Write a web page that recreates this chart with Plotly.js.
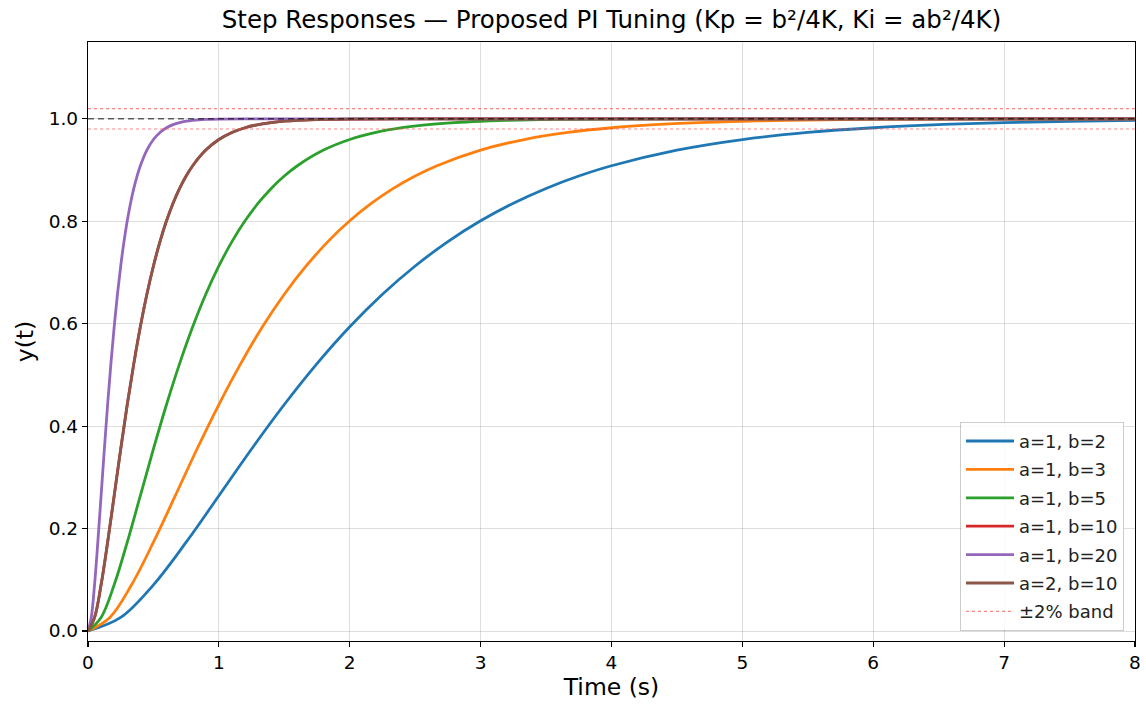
<!DOCTYPE html>
<html>
<head>
<meta charset="utf-8">
<script src="https://cdn.plot.ly/plotly-3.0.1.min.js"></script>
<style>html,body{margin:0;padding:0;background:#fff;}#chart{width:1146px;height:709px;}</style>
</head>
<body>
<div id="chart"></div>
<script>
// Series
const t_b2 = [0, 0.25, 0.5, 0.75, 1, 1.25, 1.5, 1.75, 2, 2.25, 2.5, 2.75, 3, 3.25, 3.5, 3.75, 4, 4.5, 5, 5.5, 6, 6.5, 7, 7.5, 8];
const y_b2 = [0, 0.0265, 0.0902, 0.1734, 0.2642, 0.3554, 0.4422, 0.5221, 0.5940, 0.6575, 0.7127, 0.7603, 0.8009, 0.8352, 0.8641, 0.8883, 0.9084, 0.9389, 0.9596, 0.9734, 0.9826, 0.9887, 0.9927, 0.9953, 0.9970];

const t_b3 = [0, 0.167, 0.333, 0.5, 0.667, 0.833, 1.0, 1.167, 1.333, 1.5, 1.667, 1.833, 2.0, 2.167, 2.333, 2.5, 2.667, 3.0, 3.333, 3.667, 4.0, 4.333, 4.667, 5.0, 5.333, 6.0, 6.667, 8.0];
const y_b3 = [0, 0.0265, 0.0902, 0.1734, 0.2642, 0.3554, 0.4422, 0.5221, 0.5940, 0.6575, 0.7127, 0.7603, 0.8009, 0.8352, 0.8641, 0.8883, 0.9084, 0.9389, 0.9596, 0.9734, 0.9826, 0.9887, 0.9927, 0.9953, 0.9970, 0.9988, 0.9995, 0.9999];

const t_b5 = [0, 0.1, 0.2, 0.3, 0.4, 0.5, 0.6, 0.7, 0.8, 0.9, 1.0, 1.1, 1.2, 1.3, 1.4, 1.5, 1.6, 1.8, 2.0, 2.2, 2.4, 2.6, 2.8, 3.0, 3.2, 3.6, 4.0, 4.8, 6.0, 8.0];
const y_b5 = [0, 0.0265, 0.0902, 0.1734, 0.2642, 0.3554, 0.4422, 0.5221, 0.5940, 0.6575, 0.7127, 0.7603, 0.8009, 0.8352, 0.8641, 0.8883, 0.9084, 0.9389, 0.9596, 0.9734, 0.9826, 0.9887, 0.9927, 0.9953, 0.9970, 0.9988, 0.9995, 0.9999, 1.0, 1.0];

const t_b10 = [0, 0.05, 0.1, 0.15, 0.2, 0.25, 0.3, 0.35, 0.4, 0.45, 0.5, 0.55, 0.6, 0.65, 0.7, 0.75, 0.8, 0.9, 1.0, 1.1, 1.2, 1.3, 1.4, 1.5, 1.6, 1.8, 2.0, 2.4, 3.0, 4.0, 6.0, 8.0];
const y_b10 = [0, 0.0265, 0.0902, 0.1734, 0.2642, 0.3554, 0.4422, 0.5221, 0.5940, 0.6575, 0.7127, 0.7603, 0.8009, 0.8352, 0.8641, 0.8883, 0.9084, 0.9389, 0.9596, 0.9734, 0.9826, 0.9887, 0.9927, 0.9953, 0.9970, 0.9988, 0.9995, 0.9999, 1.0, 1.0, 1.0, 1.0];

const t_b20 = [0, 0.025, 0.05, 0.075, 0.1, 0.125, 0.15, 0.175, 0.2, 0.225, 0.25, 0.275, 0.3, 0.325, 0.35, 0.375, 0.4, 0.45, 0.5, 0.55, 0.6, 0.65, 0.7, 0.75, 0.8, 0.9, 1.0, 1.2, 1.5, 2.0, 3.0, 4.0, 6.0, 8.0];
const y_b20 = [0, 0.0265, 0.0902, 0.1734, 0.2642, 0.3554, 0.4422, 0.5221, 0.5940, 0.6575, 0.7127, 0.7603, 0.8009, 0.8352, 0.8641, 0.8883, 0.9084, 0.9389, 0.9596, 0.9734, 0.9826, 0.9887, 0.9927, 0.9953, 0.9970, 0.9988, 0.9995, 0.9999, 1.0, 1.0, 1.0, 1.0, 1.0, 1.0];

const t_a2b10 = [0, 0.05, 0.1, 0.15, 0.2, 0.25, 0.3, 0.35, 0.4, 0.45, 0.5, 0.55, 0.6, 0.65, 0.7, 0.75, 0.8, 0.9, 1.0, 1.1, 1.2, 1.3, 1.4, 1.5, 1.6, 1.8, 2.0, 2.4, 3.0, 4.0, 6.0, 8.0];
const y_a2b10 = [0, 0.0265, 0.0902, 0.1734, 0.2642, 0.3554, 0.4422, 0.5221, 0.5940, 0.6575, 0.7127, 0.7603, 0.8009, 0.8352, 0.8641, 0.8883, 0.9084, 0.9389, 0.9596, 0.9734, 0.9826, 0.9887, 0.9927, 0.9953, 0.9970, 0.9988, 0.9995, 0.9999, 1.0, 1.0, 1.0, 1.0];

const seriesNames = ["a=1, b=2", "a=1, b=3", "a=1, b=5", "a=1, b=10", "a=1, b=20", "a=2, b=10"];
const seriesColors = ["#1f77b4", "#ff7f0e", "#2ca02c", "#d62728", "#9467bd", "#8c564b"];
const seriesT = [t_b2, t_b3, t_b5, t_b10, t_b20, t_a2b10];
const seriesY = [y_b2, y_b3, y_b5, y_b10, y_b20, y_a2b10];

const bandX = [0, 8];
const bandUpper = [1.02, 1.02];
const bandLower = [0.98, 0.98];
const setpointY = [1.0, 1.0];

const traces = [];
for (let i = 0; i < seriesNames.length; i++) {
  traces.push({
    x: seriesT[i], y: seriesY[i], type: 'scatter', mode: 'lines',
    name: seriesNames[i], legendgroup: 'g' + i,
    line: {color: seriesColors[i], width: 2.8, shape: 'spline', smoothing: 1}
  });
}
traces.push({x: bandX, y: setpointY, type: 'scatter', mode: 'lines', showlegend: false, hoverinfo: 'skip',
  line: {color: 'rgba(0,0,0,0.6)', width: 1.5, dash: '6px,4px'}});
traces.push({x: bandX, y: bandUpper, type: 'scatter', mode: 'lines', name: '±2% band', legendgroup: 'band',
  line: {color: 'rgba(255,80,80,0.7)', width: 1.1, dash: 'dot'}});
traces.push({x: bandX, y: bandLower, type: 'scatter', mode: 'lines', showlegend: false, legendgroup: 'band',
  line: {color: 'rgba(255,80,80,0.7)', width: 1.1, dash: 'dot'}});

const font = 'DejaVu Sans, sans-serif';
const layout = {
  width: 1146, height: 709,
  margin: {l: 88, r: 11, t: 42, b: 68},
  paper_bgcolor: '#ffffff', plot_bgcolor: '#ffffff',
  font: {family: font, color: '#000', size: 18},
  title: {text: 'Step Responses — Proposed PI Tuning (Kp = b²/4K, Ki = ab²/4K)', font: {family: font, size: 24.5, color: '#000'},
    xref: 'paper', x: 0.5, xanchor: 'center', y: 0.972, yanchor: 'middle'},
  xaxis: {
    range: [0, 8], tickvals: [0,1,2,3,4,5,6,7,8], ticks: 'outside', ticklen: 5, tickwidth: 1.2, tickcolor: '#000',
    showline: true, linecolor: '#000', linewidth: 1.2, mirror: true, zeroline: false,
    showgrid: true, gridcolor: 'rgba(0,0,0,0.13)', gridwidth: 1,
    tickfont: {family: font, size: 18.5}, title: {text: 'Time (s)', font: {family: font, size: 23.5}, standoff: 4}
  },
  yaxis: {
    range: [-0.0195, 1.15], tickvals: [0,0.2,0.4,0.6,0.8,1.0], ticktext: ['0.0','0.2','0.4','0.6','0.8','1.0'],
    ticks: 'outside', ticklen: 5, tickwidth: 1.2, tickcolor: '#000',
    showline: true, linecolor: '#000', linewidth: 1.2, mirror: true, zeroline: false,
    showgrid: true, gridcolor: 'rgba(0,0,0,0.13)', gridwidth: 1,
    tickfont: {family: font, size: 18.5}, title: {text: 'y(t)', font: {family: font, size: 23.5}, standoff: 8}
  },
  legend: {
    x: 0.9895, xanchor: 'right', y: 0.017, yanchor: 'bottom',
    bgcolor: 'rgba(255,255,255,0.85)', bordercolor: 'rgba(0,0,0,0.2)', borderwidth: 1,
    font: {family: font, size: 18, color: '#222'}, itemwidth: 48, tracegroupgap: 2
  },
  showlegend: true
};
Plotly.newPlot('chart', traces, layout, {displayModeBar: false, staticPlot: true});
</script>
</body>
</html>
